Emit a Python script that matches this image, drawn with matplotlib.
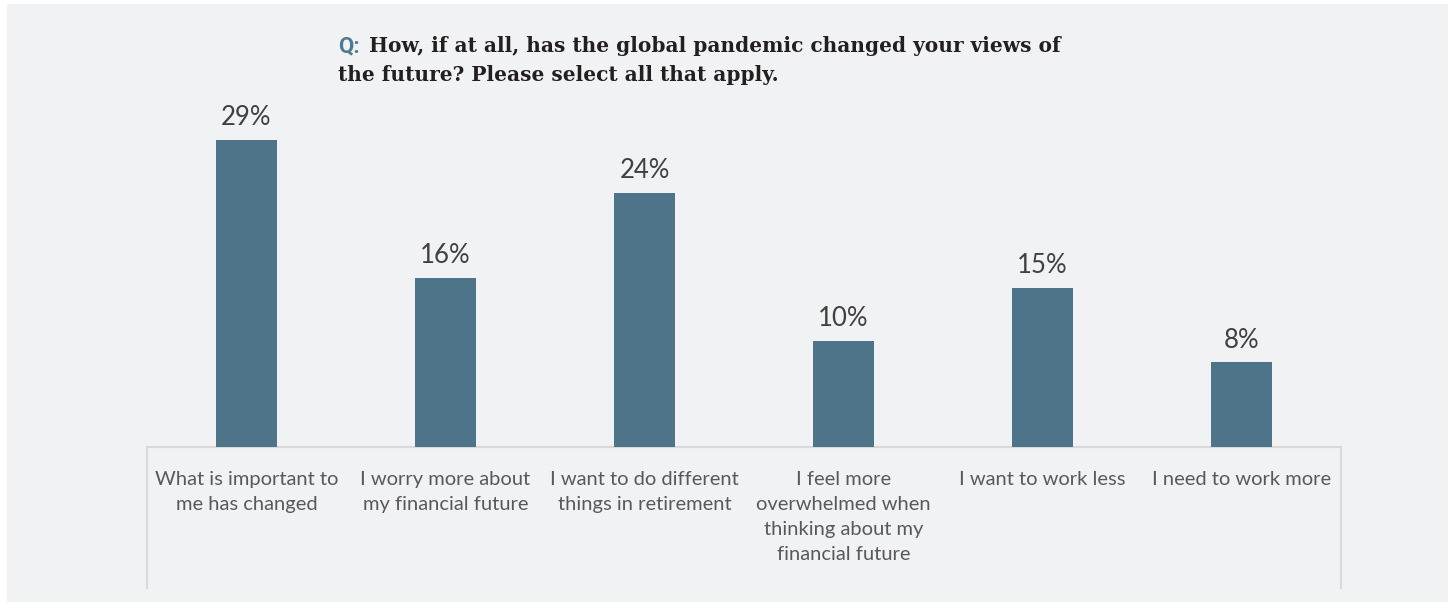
import matplotlib.pyplot as plt
from matplotlib.patches import Rectangle

# survey answers, percent of respondents
answers = [
    "What is important to\nme has changed",
    "I worry more about\nmy financial future",
    "I want to do different\nthings in retirement",
    "I feel more\noverwhelmed when\nthinking about my\nfinancial future",
    "I want to work less",
    "I need to work more",
]
shares = [29, 16, 24, 10, 15, 8]

bg = "#f1f2f4"
bar_color = "#4e7489"
line_color = "#d9d9d9"

W, H = 1452, 603
fig = plt.figure(figsize=(W / 100, H / 100), dpi=100)
fig.patch.set_facecolor("white")

# light gray panel behind everything
fig.add_artist(Rectangle((7 / W, 1 / H), 1441 / W, 598 / H,
                         transform=fig.transFigure, facecolor=bg,
                         edgecolor="none", zorder=0))

ax = fig.add_axes([147 / W, (H - 447) / H, 1194 / W, 339 / H])
ax.set_facecolor("none")

x = range(len(answers))
bars = ax.bar(x, shares, width=0.31, color=bar_color, zorder=3)
ax.set_xlim(-0.5, len(answers) - 0.5)
ax.set_ylim(0, 32)

for rect, v in zip(bars, shares):
    ax.annotate(f"{v}%", (rect.get_x() + rect.get_width() / 2, v),
                xytext=(0, 7), textcoords="offset points",
                ha="center", va="bottom", fontsize=18.5,
                family="Lato", color="#404040")

ax.set_xticks(list(x))
ax.set_xticklabels(answers, fontsize=14.5, family="Lato", color="#595959",
                   va="top", linespacing=1.58)
ax.tick_params(axis="x", length=0, pad=17)
ax.set_yticks([])

for s in ["top", "right", "left"]:
    ax.spines[s].set_visible(False)
ax.spines["bottom"].set_color(line_color)
ax.spines["bottom"].set_linewidth(1.5)

# side rules framing the category labels
drop = -(588 - 447) / 339
for xe in (0, 1):
    ax.plot([xe, xe], [0, drop], transform=ax.transAxes, color=line_color,
            lw=1.5, clip_on=False)

# question title, "Q:" in accent color
fig.text(338 / W, (H - 46) / H, "Q:", fontsize=16, fontweight="bold",
         family="Roboto", color="#4d7a92", va="center", ha="left")
fig.text(369 / W, (H - 46) / H,
         "How, if at all, has the global pandemic changed your views of",
         fontsize=14.5, fontweight="bold", family="DejaVu Serif",
         color="#231f20", va="center", ha="left")
fig.text(338 / W, (H - 75) / H, "the future? Please select all that apply.",
         fontsize=14.5, fontweight="bold", family="DejaVu Serif",
         color="#231f20", va="center", ha="left")

fig.savefig("out.png", dpi=100, facecolor=fig.get_facecolor())
